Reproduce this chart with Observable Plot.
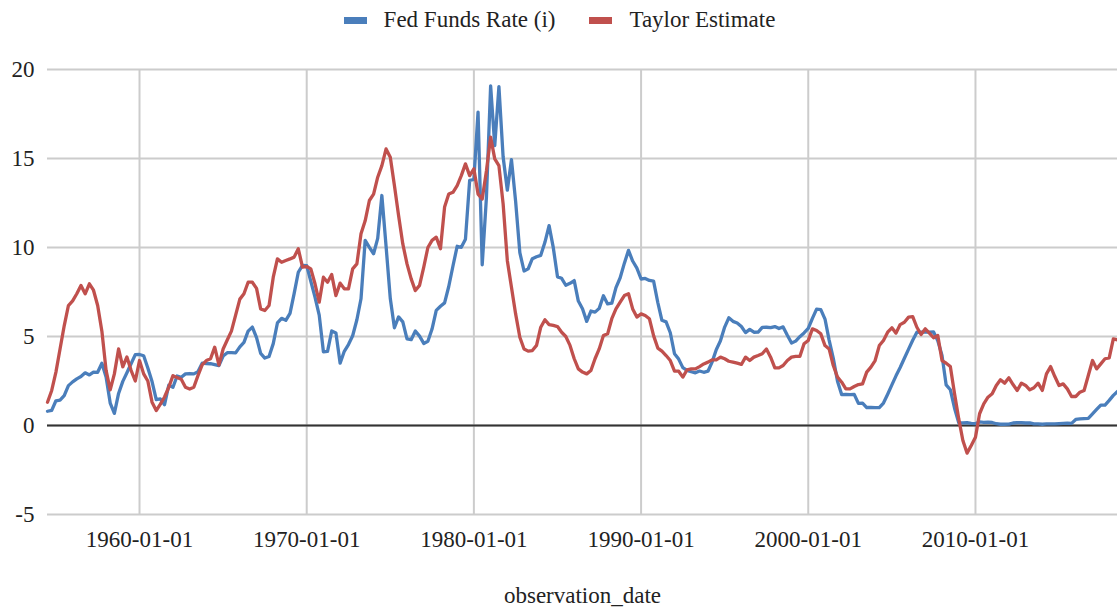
<!DOCTYPE html>
<html>
<head>
<meta charset="utf-8">
<script src="https://cdn.jsdelivr.net/npm/d3@7"></script>
<script src="https://cdn.jsdelivr.net/npm/@observablehq/plot@0.6"></script>
<style>
  html, body { margin: 0; padding: 0; background: #fff; }
  body { width: 1117px; height: 612px; overflow: hidden; font-family: "Liberation Serif", Tinos, "Times New Roman", Times, "DejaVu Serif", serif; }
  #legend { height: 40px; display: flex; justify-content: center; align-items: center; font-size: 23px; color: #222; padding-left: 2px; box-sizing: border-box; }
  #legend .sw { display: inline-block; width: 23px; height: 7px; margin-right: 17px; }
  #legend .item { display: flex; align-items: center; }
  #legend .item + .item { margin-left: 34px; }
</style>
</head>
<body>
<div id="legend"></div>
<div id="chart"></div>
<script>
// Quarterly observations (Jan, Apr, Jul, Oct), first observation 1954-07-01
const startDate = new Date(Date.UTC(1954, 6, 1));
const seriesNames = ["Fed Funds Rate (i)", "Taylor Estimate"];
const seriesColors = ["#4a7ebb", "#c0504d"];
const xTickLabels = ["1960-01-01", "1970-01-01", "1980-01-01", "1990-01-01", "2000-01-01", "2010-01-01"];
const yTicks = [-5, 0, 5, 10, 15, 20];

const fedFunds = [
  0.80, 0.85,
  1.39, 1.43, 1.68, 2.24,
  2.45, 2.62, 2.75, 2.96,
  2.84, 3.00, 2.99, 3.50,
  2.72, 1.26, 0.68, 1.80,
  2.48, 2.96, 3.47, 3.98,
  3.99, 3.92, 3.23, 2.47,
  1.45, 1.49, 1.17, 2.26,
  2.15, 2.78, 2.71, 2.90,
  2.92, 2.90, 3.02, 3.50,
  3.48, 3.47, 3.42, 3.36,
  3.90, 4.09, 4.09, 4.08,
  4.42, 4.67, 5.30, 5.53,
  4.94, 4.05, 3.79, 3.88,
  4.60, 5.76, 6.02, 5.91,
  6.30, 7.41, 8.61, 9.00,
  8.98, 8.10, 7.21, 6.20,
  4.14, 4.16, 5.31, 5.20,
  3.50, 4.17, 4.55, 5.04,
  5.94, 7.12, 10.40, 10.01,
  9.65, 10.51, 12.92, 10.06,
  7.13, 5.49, 6.10, 5.82,
  4.87, 4.82, 5.31, 5.02,
  4.61, 4.73, 5.42, 6.47,
  6.70, 6.89, 7.81, 8.96,
  10.07, 10.01, 10.47, 13.77,
  13.82, 17.61, 9.03, 12.81,
  19.08, 15.72, 19.04, 15.08,
  13.22, 14.94, 12.59, 9.71,
  8.68, 8.80, 9.37, 9.48,
  9.56, 10.29, 11.23, 9.99,
  8.35, 8.27, 7.88, 7.99,
  8.14, 6.99, 6.56, 5.85,
  6.43, 6.37, 6.58, 7.29,
  6.83, 6.87, 7.75, 8.30,
  9.12, 9.84, 9.24, 8.84,
  8.23, 8.26, 8.15, 8.11,
  6.91, 5.91, 5.82, 5.21,
  4.03, 3.73, 3.25, 3.10,
  3.02, 2.96, 3.06, 2.99,
  3.05, 3.56, 4.26, 4.76,
  5.53, 6.05, 5.85, 5.76,
  5.56, 5.22, 5.40, 5.24,
  5.25, 5.51, 5.52, 5.50,
  5.56, 5.45, 5.54, 5.07,
  4.63, 4.74, 4.99, 5.20,
  5.45, 6.02, 6.54, 6.51,
  5.98, 4.80, 3.77, 2.49,
  1.73, 1.75, 1.73, 1.75,
  1.24, 1.26, 1.01, 1.01,
  1.00, 1.00, 1.26, 1.76,
  2.28, 2.79, 3.26, 3.78,
  4.29, 4.79, 5.24, 5.25,
  5.25, 5.25, 5.26, 4.76,
  3.94, 2.28, 2.01, 0.97,
  0.15, 0.15, 0.16, 0.12,
  0.11, 0.20, 0.18, 0.19,
  0.17, 0.10, 0.07, 0.07,
  0.08, 0.14, 0.16, 0.16,
  0.14, 0.15, 0.09, 0.09,
  0.07, 0.09, 0.09, 0.09,
  0.11, 0.12, 0.13, 0.12,
  0.34, 0.37, 0.39, 0.40,
  0.65, 0.90, 1.15, 1.15,
  1.41, 1.69, 1.91
];

const taylor = [
  1.31, 1.97,
  3.0, 4.3, 5.6, 6.74,
  7.0, 7.4, 7.87, 7.4,
  7.96, 7.6, 6.74, 5.3,
  3.1, 2.0, 2.9, 4.3,
  3.3, 3.85, 3.1, 2.5,
  3.65, 2.9, 2.5, 1.31,
  0.84, 1.2, 1.6, 2.15,
  2.8, 2.7, 2.6, 2.15,
  2.05, 2.15, 2.8, 3.4,
  3.65, 3.75, 4.4, 3.4,
  4.3, 4.8, 5.3, 6.2,
  7.1, 7.4, 8.05, 8.05,
  7.7, 6.55, 6.46, 6.74,
  8.33, 9.36, 9.17, 9.27,
  9.36, 9.46, 9.93, 8.9,
  8.93, 8.8, 7.96, 6.93,
  8.33, 8.05, 8.48, 7.3,
  8.0, 7.68, 7.68, 8.8,
  9.08, 10.77, 11.5, 12.64,
  13.0, 13.95, 14.6, 15.54,
  15.07, 13.48, 11.8, 10.2,
  9.08, 8.24, 7.58, 7.87,
  8.9, 10.0, 10.4, 10.58,
  9.93, 12.27, 13.0, 13.1,
  13.48, 14.04, 14.7, 14.04,
  14.42, 13.0, 12.73, 14.3,
  16.2, 14.98, 14.6, 12.45,
  9.26, 7.77, 6.27, 4.96,
  4.3, 4.18, 4.21, 4.5,
  5.52, 5.94, 5.67, 5.62,
  5.56, 5.24, 5.0, 4.5,
  3.75, 3.18, 3.0, 2.9,
  3.09, 3.75, 4.3, 5.05,
  5.15, 6.0, 6.55, 6.93,
  7.3, 7.4, 6.55, 6.09,
  6.27, 6.18, 6.0, 5.05,
  4.35, 4.18, 3.93, 3.65,
  3.05, 3.05, 2.72, 3.13,
  3.18, 3.18, 3.31, 3.46,
  3.56, 3.69, 3.69, 3.84,
  3.75, 3.61, 3.56, 3.5,
  3.43, 3.84, 3.65, 3.84,
  3.93, 4.03, 4.3, 3.84,
  3.24, 3.24, 3.37, 3.65,
  3.84, 3.88, 3.88, 4.59,
  4.78, 5.43, 5.34, 5.15,
  4.49, 4.3, 3.37, 2.72,
  2.43, 2.06, 2.06, 2.19,
  2.3, 2.34, 3.0, 3.28,
  3.65, 4.49, 4.78, 5.24,
  5.49, 5.19, 5.67, 5.8,
  6.09, 6.12, 5.52, 5.11,
  5.43, 5.19, 4.93, 5.06,
  3.65, 3.5, 3.31, 1.78,
  0.37, -0.84, -1.55, -1.12,
  -0.66, 0.66, 1.22, 1.59,
  1.78, 2.25, 2.57, 2.38,
  2.68, 2.3, 1.97, 2.38,
  2.25, 2.0, 2.12, 2.38,
  1.97, 2.9, 3.31, 2.75,
  2.25, 2.34, 2.06, 1.63,
  1.63, 1.87, 1.97, 2.81,
  3.65, 3.18, 3.46, 3.75,
  3.8, 4.87, 4.81
];

const quarterDate = (i) => d3.utcMonth.offset(startDate, 3 * i);
const rows = [];
[fedFunds, taylor].forEach((vals, s) => {
  vals.forEach((v, i) => rows.push({series: seriesNames[s], date: quarterDate(i), value: v}));
});
const endDate = quarterDate(fedFunds.length - 1);
const parseDay = d3.utcParse("%Y-%m-%d");
const xTicks = xTickLabels.map(parseDay);

// Legend
const legend = document.getElementById("legend");
seriesNames.forEach((name, i) => {
  const item = document.createElement("span");
  item.className = "item";
  const sw = document.createElement("span");
  sw.className = "sw";
  sw.style.background = seriesColors[i];
  const label = document.createElement("span");
  label.textContent = name;
  item.append(sw, label);
  legend.append(item);
});

const serifStack = "'Liberation Serif', Tinos, 'Times New Roman', Times, 'DejaVu Serif', serif";
const chart = Plot.plot({
  width: 1117,
  height: 572,
  marginLeft: 47,
  marginRight: 0,
  marginTop: 29,
  marginBottom: 98,
  style: {fontFamily: serifStack, fontSize: "23px", color: "#222", background: "#fff", overflow: "visible"},
  x: {type: "utc", domain: [startDate, endDate]},
  y: {domain: [-5, 20]},
  color: {domain: seriesNames, range: seriesColors},
  marks: [
    Plot.gridY(yTicks, {stroke: "#cccccc", strokeOpacity: 1, strokeWidth: 2}),
    Plot.gridX(xTicks, {stroke: "#cccccc", strokeOpacity: 1, strokeWidth: 2}),
    Plot.axisY(yTicks, {tickSize: 0, tickPadding: 13, label: null, tickFormat: (d) => String(d)}),
    Plot.axisX(xTicks, {tickSize: 0, tickPadding: 16, tickFormat: d3.utcFormat("%Y-%m-%d"),
      label: "observation_date", labelArrow: "none", labelAnchor: "center", labelOffset: 88}),
    Plot.ruleY([0], {stroke: "#333", strokeWidth: 2}),
    Plot.line(rows, {x: "date", y: "value", z: "series", stroke: "series", strokeWidth: 3.3, strokeLinejoin: "round"})
  ]
});
document.getElementById("chart").append(chart);
</script>
</body>
</html>
